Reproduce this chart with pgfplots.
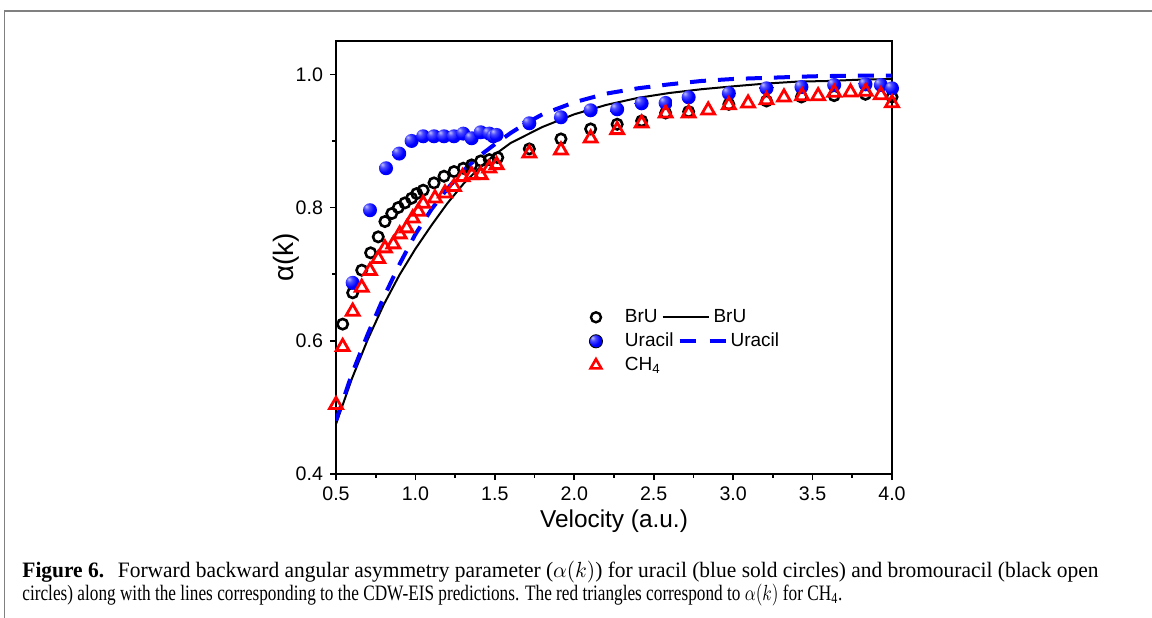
\documentclass[border=0pt]{standalone}
\usepackage{pgfplots}
\pgfplotsset{compat=1.18}
\usepackage{fontspec}
\usepackage{graphicx}
\setmainfont{Liberation Sans}
\newfontfamily\capfont{Liberation Serif}
\definecolor{framegray}{RGB}{128,128,128}
\pgfdeclareradialshading{myball}{\pgfpoint{-14bp}{14bp}}{%
  color(0bp)=(blue!25!white); color(10bp)=(blue!70!white); color(24bp)=(blue);
  color(50bp)=(blue!88!black); color(70bp)=(blue!70!black)}
\pgfdeclareplotmark{sball}{\pgfpathcircle{\pgfpointorigin}{\pgfplotmarksize}\pgfshadepath{myball}{0}\pgfusepath{discard}}
\begin{document}
\begin{tikzpicture}
\useasboundingbox (0,0) rectangle (576pt,308.5pt);
\draw[framegray, line width=0.8pt] (2.2pt,-10pt) -- (2.2pt,303pt) -- (600pt,303pt);
\begin{axis}[
  at={(168pt,71.5pt)}, anchor=south west,
  scale only axis, width=278pt, height=216.5pt,
  xmin=0.5, xmax=4.0, ymin=0.4, ymax=1.05,
  xtick={0.5,1.0,1.5,2.0,2.5,3.0,3.5,4.0}, ytick={0.4,0.6,0.8,1.0},
  minor x tick num=1, minor y tick num=1,
  tick align=outside, xtick pos=bottom, ytick pos=left,
  major tick length=3pt, minor tick length=1.8pt,
  axis line style={line width=0.8pt},
  every tick/.style={black, line width=0.8pt},
  /pgf/number format/assume math mode=true,
  xticklabel style={/pgf/number format/fixed, /pgf/number format/fixed zerofill, /pgf/number format/precision=1},
  yticklabel style={/pgf/number format/fixed, /pgf/number format/fixed zerofill, /pgf/number format/precision=1},
  tick label style={font=\fontsize{9.8}{11}\selectfont},
  xlabel={Velocity (a.u.)},
  ylabel={α(k)},
  every axis x label/.style={at={(axis description cs:0.5,-0.1085)}, anchor=center, font=\fontsize{12.2}{14}\selectfont},
  every axis y label/.style={at={(axis description cs:-0.0888,0.5)}, anchor=center, rotate=90, font=\fontsize{14}{16}\selectfont},
  legend columns=2,
  legend style={at={(0.4496,0.3827)}, anchor=north west, draw=none, fill=none,
    inner sep=0pt, outer sep=0pt, row sep=3pt, column sep=0pt,
    cells={anchor=west}, nodes={inner sep=0pt, text height=7pt, text depth=2pt},
    font=\fontsize{9.5}{11}\selectfont},
]
% CDW-EIS BrU (solid)
\addplot[black, line width=1pt, forget plot] coordinates {
(0.5,0.475) (0.6,0.543) (0.7,0.602) (0.8,0.654) (0.9,0.699) (1.0,0.738)
(1.1,0.773) (1.2,0.806) (1.3,0.835) (1.4,0.859) (1.5,0.8795) (1.6,0.897)
(1.8,0.921) (2.0,0.940) (2.2,0.954) (2.4,0.9646) (2.6,0.972) (2.8,0.9776)
(3.0,0.982) (3.2,0.986) (3.4,0.989) (3.6,0.990) (3.8,0.992) (4.0,0.993)};
% CDW-EIS Uracil (dashed)
\addplot[blue, line width=2pt, dash pattern=on 8pt off 6pt, forget plot] coordinates {
(0.5,0.48) (0.6,0.55) (0.7,0.61) (0.8,0.665) (0.9,0.715) (1.0,0.76)
(1.1,0.797) (1.2,0.828) (1.3,0.855) (1.4,0.877) (1.5,0.895) (1.6,0.912)
(1.7,0.927) (1.8,0.940) (2.0,0.958) (2.2,0.971) (2.4,0.979) (2.6,0.985)
(2.8,0.990) (3.0,0.993) (3.25,0.995) (3.5,0.997) (3.75,0.998) (4.0,0.998)};
% BrU data
\addplot[only marks, mark=o, mark size=2.6pt, black, line width=1.3pt, forget plot] coordinates {
(0.542,0.625) (0.605,0.672) (0.662,0.706) (0.718,0.732) (0.766,0.756) (0.808,0.779)
(0.851,0.791) (0.892,0.800) (0.934,0.807) (0.976,0.814) (1.008,0.821) (1.049,0.826)
(1.117,0.837) (1.180,0.847) (1.243,0.854) (1.301,0.859) (1.354,0.864) (1.411,0.870)
(1.465,0.872) (1.518,0.875) (1.717,0.888) (1.916,0.903) (2.103,0.918) (2.270,0.925)
(2.424,0.930) (2.575,0.942) (2.720,0.944) (2.973,0.955) (3.210,0.960) (3.430,0.966)
(3.636,0.968) (3.833,0.970) (4.0,0.966)};
% Uracil data
\addplot[only marks, mark=sball, mark size=3.5pt, forget plot] coordinates {
(0.605,0.687) (0.714,0.796) (0.815,0.859) (0.898,0.881) (0.976,0.900) (1.049,0.907)
(1.117,0.907) (1.180,0.907) (1.243,0.907) (1.301,0.911) (1.354,0.904) (1.411,0.913)
(1.465,0.911) (1.490,0.907) (1.511,0.909) (1.717,0.9265) (1.916,0.9355) (2.103,0.946)
(2.270,0.9475) (2.424,0.9565) (2.575,0.957) (2.720,0.9655) (2.973,0.9715) (3.210,0.979)
(3.430,0.981) (3.636,0.984) (3.833,0.985) (3.930,0.984) (4.0,0.979)};
% CH4 data
\addplot[only marks, mark=triangle, red, mark size=3.7pt, line width=1.4pt, forget plot] coordinates {
(0.500,0.504) (0.542,0.591) (0.605,0.644) (0.662,0.680) (0.714,0.705) (0.766,0.723)
(0.808,0.739) (0.861,0.745) (0.901,0.760) (0.945,0.769) (0.983,0.784) (1.018,0.794)
(1.049,0.806) (1.123,0.814) (1.186,0.8215) (1.243,0.831) (1.297,0.846) (1.354,0.849)
(1.411,0.849) (1.465,0.859) (1.511,0.864) (1.717,0.8815) (1.916,0.886) (2.103,0.904)
(2.270,0.9165) (2.424,0.9265) (2.575,0.9415) (2.720,0.9415) (2.843,0.946) (2.973,0.954)
(3.094,0.9565) (3.210,0.9615) (3.320,0.9655) (3.434,0.9675) (3.535,0.9675) (3.636,0.9725)
(3.739,0.973) (3.835,0.974) (3.930,0.969) (4.0,0.957)};
% legend
\addlegendimage{legend image code/.code={\path[draw=none,fill=none] (-5pt,-4.5pt) rectangle (14.5pt,4.5pt); \draw[black, line width=1.2pt] (0pt,0pt) circle (2.5pt);}}
\addlegendentry{BrU}
\addlegendimage{legend image code/.code={\path[draw=none,fill=none] (-3pt,-4.5pt) rectangle (25.5pt,4.5pt); \draw[overlay, black, line width=1pt] (-8.5pt,0pt) -- (14.5pt,0pt);}}
\addlegendentry{\hspace*{-8.5pt}BrU}
\addlegendimage{legend image code/.code={\path[draw=none,fill=none] (-5pt,-4.5pt) rectangle (14.5pt,4.5pt); \shade[shading=myball] (0pt,0pt) circle (3.3pt);}}
\addlegendentry{Uracil}
\addlegendimage{legend image code/.code={\path[draw=none,fill=none] (-3pt,-4.5pt) rectangle (25.5pt,4.5pt); \draw[blue, line width=2pt, dash pattern=on 8pt off 7pt] (0pt,0pt) -- (23pt,0pt);}}
\addlegendentry{Uracil}
\addlegendimage{legend image code/.code={\path[draw=none,fill=none] (-5pt,-4.5pt) rectangle (14.5pt,4.5pt); \draw[red, line width=1.3pt, mark size=3.1pt] plot[mark=triangle] coordinates {(0pt,0pt)};}}
\addlegendentry{CH\textsubscript{4}}
\end{axis}
\node[anchor=base west, inner sep=0pt] at (11pt,20pt) {\resizebox{538pt}{\height}{\capfont\fontsize{11}{13}\selectfont\textbf{Figure 6.}\hspace{7pt}Forward backward angular asymmetry parameter ($\alpha(k)$) for uracil (blue sold circles) and bromouracil (black open}};
\node[anchor=base west, inner sep=0pt] at (11pt,8.5pt) {\resizebox{410pt}{\height}{\capfont\fontsize{11}{13}\selectfont circles) along with the lines corresponding to the CDW-EIS predictions. The red triangles correspond to $\alpha(k)$ for CH\textsubscript{4}.}};
\end{tikzpicture}
\end{document}
